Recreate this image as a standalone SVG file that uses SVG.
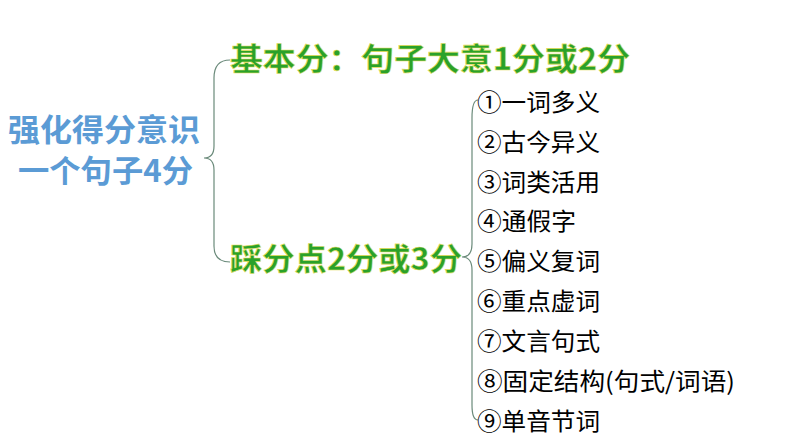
<svg xmlns="http://www.w3.org/2000/svg" width="794" height="447" viewBox="0 0 794 447">
<style>
.b{font-family:"Noto Sans CJK SC","Liberation Sans",sans-serif;font-weight:bold;fill:#5b9bd5;font-size:31px}
.g{font-family:"Noto Sans CJK SC","Liberation Sans",sans-serif;font-weight:bold;fill:#2aa12a;stroke:#e8e060;stroke-width:0.6px;font-size:31px}
.k{font-family:"Noto Sans CJK SC","Liberation Sans",sans-serif;fill:#000;font-size:24px}
.c{fill:none;stroke:#6a8a7a;stroke-width:1.2}
</style>
<rect width="794" height="447" fill="#fff"/>
<g id="root"><text class="b" x="8" y="141" textLength="192" lengthAdjust="spacingAndGlyphs">强化得分意识</text><text class="b" x="18" y="182" textLength="175" lengthAdjust="spacingAndGlyphs">一个句子4分</text></g>
<g id="connectors">
<path class="c" d="M230,60 Q214,60 214,78 L214,146 Q214,158 204,158 Q214,158 214,170 L214,246 Q214,262 230,262"/>
<path class="c" d="M478,100 Q472,100 472,118 L472,244 Q472,257 462,257 Q472,257 472,270 L472,405 Q472,420 478,420"/>
</g>
<g id="basic"><text class="g" x="230" y="70" textLength="400" lengthAdjust="spacingAndGlyphs">基本分：句子大意1分或2分</text></g>
<g id="points"><text class="g" x="230" y="270" textLength="232" lengthAdjust="spacingAndGlyphs">踩分点2分或3分</text></g>
<g id="items">
<text class="k" x="477" y="111" textLength="123" lengthAdjust="spacingAndGlyphs">①一词多义</text>
<text class="k" x="477" y="151" textLength="123" lengthAdjust="spacingAndGlyphs">②古今异义</text>
<text class="k" x="477" y="191" textLength="123" lengthAdjust="spacingAndGlyphs">③词类活用</text>
<text class="k" x="477" y="230" textLength="99" lengthAdjust="spacingAndGlyphs">④通假字</text>
<text class="k" x="477" y="270" textLength="123" lengthAdjust="spacingAndGlyphs">⑤偏义复词</text>
<text class="k" x="477" y="310" textLength="123" lengthAdjust="spacingAndGlyphs">⑥重点虚词</text>
<text class="k" x="477" y="350" textLength="123" lengthAdjust="spacingAndGlyphs">⑦文言句式</text>
<text class="k" x="477" y="390" textLength="258" lengthAdjust="spacingAndGlyphs">⑧固定结构(句式/词语)</text>
<text class="k" x="477" y="430" textLength="123" lengthAdjust="spacingAndGlyphs">⑨单音节词</text>
</g>
</svg>
